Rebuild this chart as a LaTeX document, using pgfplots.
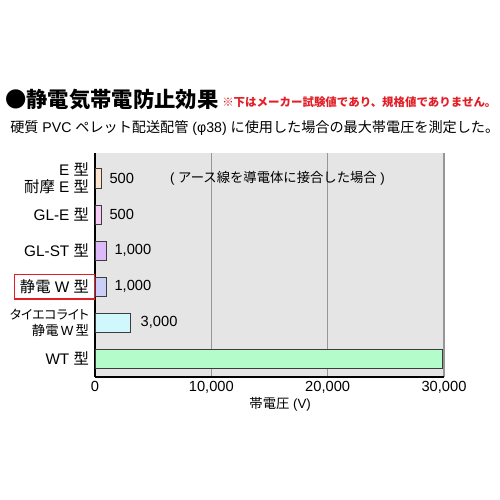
\documentclass[border=0pt]{standalone}
\usepackage{pgfplots}
\pgfplotsset{compat=1.18}
\usepackage{fontspec}
\setmainfont{Liberation Sans}
\newfontfamily\jp{Noto Sans CJK JP}
\newfontfamily\jpp{Noto Sans CJK JP}[RawFeature=+palt]
\definecolor{cE}{RGB}{253,228,204}
\definecolor{cGLE}{RGB}{248,202,247}
\definecolor{cGLST}{RGB}{221,187,250}
\definecolor{cW}{RGB}{202,206,248}
\definecolor{cTai}{RGB}{208,248,252}
\definecolor{cWT}{RGB}{180,252,202}
\definecolor{cbar}{RGB}{60,60,60}
\definecolor{cbg}{RGB}{229,229,229}
\definecolor{cgrid}{RGB}{150,150,150}
\definecolor{cred}{RGB}{226,30,38}

\begin{document}
\begin{tikzpicture}
% page = 500x500 px, 1px = 0.75pt, axis origin at (95px,377px)
\useasboundingbox (-71.25pt,-92.25pt) rectangle (303.75pt,282.75pt);
\begin{axis}[
    at={(0,0)}, anchor=south west,
    scale only axis, width=261.75pt, height=168pt,
    xbar, bar shift=0pt, bar width=0.53,
    xmin=0, xmax=30000, ymin=-0.5, ymax=5.7,
    xtick={0,10000,20000,30000},
    scaled x ticks=false,
    /pgf/number format/.cd, fixed, 1000 sep={,}, assume math mode=true,
    /pgfplots/.cd,
    ytick={0,1,2,3,4,5},
    yticklabels={
        {WT {\jp 型}},
        {{\fontsize{9.6}{12.5}\selectfont\jpp タイエコライト}\\{\fontsize{10}{12.5}\selectfont{\jp 静電}\,W\,{\jp 型}}},
        {{\setlength\fboxsep{3.5pt}\setlength\fboxrule{1pt}\fcolorbox{cred}{white}{{\jp 静電} W {\jp 型}}}\kern-4.5pt},
        {GL-ST {\jp 型}},
        {GL-E {\jp 型}},
        {E {\jp 型}\\{\jp 耐摩} E {\jp 型}}
    },
    yticklabel style={align=right, font=\fontsize{11.5}{12.2}\selectfont, xshift=-1pt},
    xticklabel style={font=\fontsize{11}{12}\selectfont},
    major tick length=0pt,
    axis x line*=bottom, axis y line*=left,
    axis line style={-, line width=1.3pt, black},
    axis background/.style={fill=cbg},
    xmajorgrids, major grid style={cgrid, line width=0.8pt},
    xlabel={{\jp 帯電圧} (V)},
    xlabel style={font=\fontsize{10}{11}\selectfont, xshift=8pt, yshift=4pt},
    nodes near coords style={font=\fontsize{11}{12}\selectfont, black},
]
\addplot[fill=cE, draw=cbar, nodes near coords, nodes near coords style={xshift=3pt}] coordinates {(500,5)};
\addplot[fill=cGLE, draw=cbar, nodes near coords, nodes near coords style={xshift=3pt}] coordinates {(500,4)};
\addplot[fill=cGLST, draw=cbar, nodes near coords, nodes near coords style={xshift=2.4pt}] coordinates {(1000,3)};
\addplot[fill=cW, draw=cbar, nodes near coords, nodes near coords style={xshift=2.4pt}] coordinates {(1000,2)};
\addplot[fill=cTai, draw=cbar, nodes near coords, nodes near coords style={xshift=4.6pt}] coordinates {(3000,1)};
\addplot[fill=cWT, draw=cbar] coordinates {(29850,0)};
\node[anchor=west, font=\fontsize{10}{11}\selectfont] at (axis cs:6050,5) {( {\jp アース線を導電体に接合した場合} )};
\end{axis}
\node[anchor=base west, inner sep=0pt, font=\jp\bfseries\fontsize{16}{16}\selectfont] at (-67.5pt,201.75pt) {●静電気帯電防止効果};
\node[anchor=base west, inner sep=0pt, text=cred, font=\jp\bfseries\fontsize{8.6}{9}\selectfont] at (95.25pt,202.5pt) {※下はメーカー試験値であり、規格値でありません。};
\node[anchor=base west, inner sep=0pt, font=\fontsize{10.6}{11}\selectfont] at (-63.75pt,183pt) {{\jp 硬質} PVC {\jp ペレット配送配管} (φ38) {\jp に使用した場合の最大帯電圧を測定した。}};
\end{tikzpicture}
\end{document}
